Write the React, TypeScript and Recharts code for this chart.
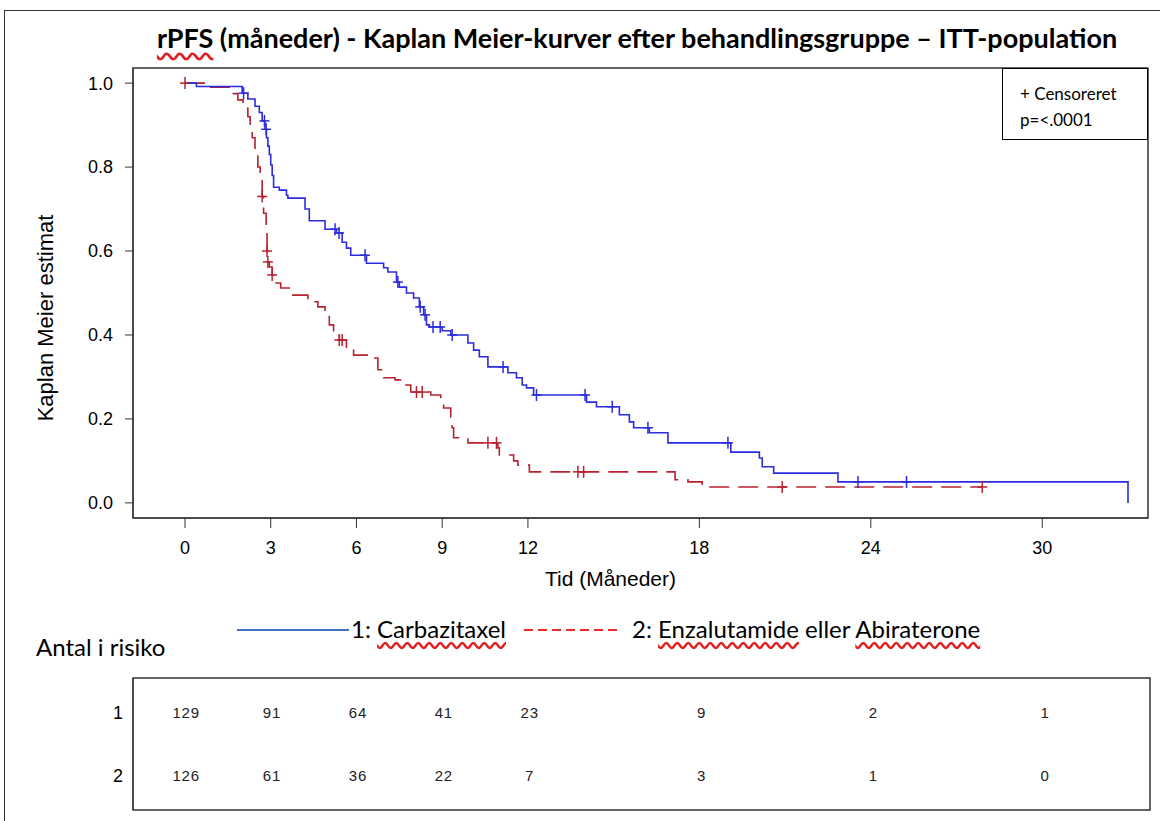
import { ComposedChart, Line, Scatter, XAxis, YAxis, ReferenceArea } from 'recharts'

// x-axis (months) and y-axis ticks
const monthTicks = [0, 3, 6, 9, 12, 18, 24, 30]
const survTicks = [0, 0.2, 0.4, 0.6, 0.8, 1.0]
const xDomain: [number, number] = [-1.82, 33.7]
const yDomain: [number, number] = [-0.036, 1.036]

// 1: Carbazitaxel - KM step points (time in months, survival estimate)
const carbaTime = [
  0, 0.4, 2.0, 2.2, 2.45, 2.6, 2.7, 2.8, 2.85, 2.9, 2.95, 3.0, 3.05, 3.1, 3.3, 3.55, 3.6,
  4.2, 4.35, 4.9, 5.3, 5.5, 5.65, 5.8, 6.35, 6.95, 7.1, 7.4, 7.5, 7.75, 8.0, 8.2, 8.35,
  8.45, 8.55, 9.0, 9.3, 9.9, 10.1, 10.3, 10.6, 11.3, 11.6, 11.8, 11.95, 12.2, 14.05, 14.4,
  15.2, 15.55, 15.7, 16.25, 16.9, 19.1, 20.1, 20.2, 20.6, 22.85, 33.0,
]
const carbaSurv = [
  1.0, 0.992, 0.976, 0.962, 0.945, 0.93, 0.91, 0.89, 0.87, 0.85, 0.83, 0.805, 0.78, 0.752,
  0.745, 0.733, 0.726, 0.7, 0.672, 0.652, 0.643, 0.621, 0.607, 0.59, 0.571, 0.56, 0.55,
  0.526, 0.514, 0.5, 0.488, 0.467, 0.448, 0.424, 0.419, 0.41, 0.4, 0.381, 0.364, 0.348,
  0.324, 0.31, 0.298, 0.281, 0.274, 0.257, 0.24, 0.229, 0.21, 0.193, 0.179, 0.167, 0.143,
  0.121, 0.107, 0.086, 0.071, 0.05, 0,
]
const carbaCensor = [
  2.05, 2.78, 2.84, 5.25, 5.39, 6.3, 7.45, 8.23, 8.4, 8.68, 8.93, 9.35, 11.13, 12.3, 14.0,
  14.95, 16.2, 19.0, 23.55, 25.25,
]

// 2: Enzalutamide eller Abiraterone
const enzaTime = [
  0, 0.8, 1.65, 1.85, 2.03, 2.2, 2.28, 2.35, 2.45, 2.55, 2.63, 2.7, 2.75, 2.84, 2.87, 2.9,
  2.95, 3.05, 3.15, 3.35, 3.7, 4.3, 4.65, 4.9, 5.05, 5.2, 5.4, 5.65, 5.9, 6.6, 6.75, 6.95,
  7.35, 7.6, 7.9, 8.6, 8.95, 9.05, 9.3, 9.35, 9.4, 9.9, 10.95, 11.0, 11.5, 11.65, 12.05,
  17.15, 17.6, 18.1, 27.9,
]
const enzaSurv = [
  1.0, 0.99, 0.975, 0.96, 0.94, 0.92, 0.895, 0.87, 0.84, 0.8, 0.77, 0.73, 0.69, 0.645, 0.6,
  0.574, 0.562, 0.543, 0.524, 0.512, 0.495, 0.479, 0.467, 0.452, 0.424, 0.405, 0.388,
  0.371, 0.352, 0.345, 0.317, 0.298, 0.293, 0.281, 0.264, 0.257, 0.245, 0.226, 0.205,
  0.179, 0.155, 0.143, 0.131, 0.114, 0.1, 0.09, 0.074, 0.055, 0.05, 0.038, 0.038,
]
const enzaCensor = [0, 2.7, 2.87, 2.9, 3.05, 5.4, 5.5, 8.1, 8.3, 10.6, 10.9, 13.75, 13.95, 20.9, 27.9]

// Antal i risiko
const atRiskCarba = [129, 91, 64, 41, 23, 9, 2, 1]
const atRiskEnza = [126, 61, 36, 22, 7, 3, 1, 0]

const BLUE = '#2b2bdf'
const RED = '#b8222f'

const survAt = (times: number[], surv: number[], t: number) => {
  let s = surv[0]
  times.forEach((tt, i) => {
    if (tt <= t) s = surv[i]
  })
  return s
}

const carbaData = carbaTime.map((t, i) => ({ t, s: carbaSurv[i] }))
const enzaData = enzaTime.map((t, i) => ({ t, s: enzaSurv[i] }))
const carbaMarks = carbaCensor.map((t) => ({ t, s: survAt(carbaTime, carbaSurv, t) }))
const enzaMarks = enzaCensor.map((t) => ({ t, s: survAt(enzaTime, enzaSurv, t) }))

const riskData = [
  ...monthTicks.map((t, i) => ({ t, row: 1, n: atRiskCarba[i] })),
  ...monthTicks.map((t, i) => ({ t, row: 2, n: atRiskEnza[i] })),
]

const axisFont = { fontFamily: '"Liberation Sans", Arial, sans-serif', fill: '#000' }
const wordFont = 'Lato, "Open Sans", sans-serif'
const squiggle = { textDecoration: 'underline wavy #e02020', textUnderlineOffset: 4 }

function censorMark(color: string) {
  return (props: any) => {
    const { cx, cy } = props
    return (
      <g stroke={color} strokeWidth={1.5}>
        <line x1={cx - 5} y1={cy} x2={cx + 5} y2={cy} />
        <line x1={cx} y1={cy - 6} x2={cx} y2={cy + 6} />
      </g>
    )
  }
}

function riskLabel(props: any) {
  const { cx, cy, payload } = props
  return (
    <text x={cx + 1} y={cy} textAnchor="middle" dominantBaseline="central" fontSize={15}
      letterSpacing={0.8} fontFamily='"Liberation Sans", Arial, sans-serif' fill="#222">
      {payload.n}
    </text>
  )
}

export default function App() {
  return (
    <div style={{ position: 'absolute', left: 0, top: 0, width: 1160, height: 821, background: '#fff', overflow: 'hidden' }}>
      <div style={{ position: 'absolute', left: 4, top: 10, width: 1170, height: 900, borderLeft: '1.5px solid #333', borderTop: '1.5px solid #333' }} />

      <div style={{ position: 'absolute', left: 0, top: 21, width: 1274, textAlign: 'center', fontFamily: wordFont, fontWeight: 700, fontSize: 27, color: '#000', whiteSpace: 'nowrap' }}>
        <span style={squiggle}>rPFS</span> (måneder) - Kaplan Meier-kurver efter behandlingsgruppe – ITT-population
      </div>

      <div style={{ position: 'absolute', left: 0, top: 0 }}>
        <ComposedChart width={1160} height={600} margin={{ top: 68, right: 12, bottom: 7, left: 33 }}>
          <XAxis
            type="number"
            dataKey="t"
            domain={xDomain}
            ticks={monthTicks}
            allowDataOverflow
            height={75}
            tickSize={10}
            tickMargin={13}
            tick={{ ...axisFont, fontSize: 18 }}
            stroke="#333"
            label={{ value: 'Tid (Måneder)', position: 'insideBottom', offset: 7, dx: -30, style: { ...axisFont, fontSize: 21 } }}
          />
          <YAxis
            type="number"
            dataKey="s"
            domain={yDomain}
            ticks={survTicks}
            allowDataOverflow
            width={100}
            tickSize={8}
            tickMargin={12}
            tickFormatter={(v: number) => v.toFixed(1)}
            tick={{ ...axisFont, fontSize: 18 }}
            stroke="#333"
            label={{ value: 'Kaplan Meier estimat', angle: -90, position: 'insideLeft', offset: 12, dy: 25, style: { ...axisFont, fontSize: 22, textAnchor: 'middle' } }}
          />
          <ReferenceArea x1={xDomain[0]} x2={xDomain[1]} y1={yDomain[0]} y2={yDomain[1]} fill="none" stroke="#333" strokeWidth={1.5} />
          <Line data={enzaData} dataKey="s" type="stepAfter" stroke={RED} strokeWidth={1.6} strokeDasharray="20 9" dot={false} isAnimationActive={false} />
          <Line data={carbaData} dataKey="s" type="stepAfter" stroke={BLUE} strokeWidth={1.6} dot={false} isAnimationActive={false} />
          <Scatter data={enzaMarks} dataKey="s" shape={censorMark(RED)} isAnimationActive={false} />
          <Scatter data={carbaMarks} dataKey="s" shape={censorMark(BLUE)} isAnimationActive={false} />
        </ComposedChart>
      </div>

      <div style={{ position: 'absolute', left: 1002, top: 68, width: 146, height: 72, boxSizing: 'border-box', border: '1.5px solid #000', background: '#fff', fontFamily: wordFont, fontSize: 17, color: '#000' }}>
        <div style={{ position: 'absolute', left: 17, top: 15, lineHeight: '20px', whiteSpace: 'nowrap' }}>+ Censoreret</div>
        <div style={{ position: 'absolute', left: 17, top: 41, lineHeight: '20px', whiteSpace: 'nowrap' }}>p=&lt;.0001</div>
      </div>

      <svg style={{ position: 'absolute', left: 237, top: 625 }} width={112} height={10}>
        <line x1={0} y1={5} x2={112} y2={5} stroke="#4472c4" strokeWidth={2} />
      </svg>
      <div style={{ position: 'absolute', left: 351, top: 614, fontFamily: wordFont, fontSize: 24, lineHeight: '30px', color: '#000', whiteSpace: 'nowrap' }}>
        1: <span style={squiggle}>Carbazitaxel</span>
      </div>
      <svg style={{ position: 'absolute', left: 524, top: 625 }} width={98} height={10}>
        <line x1={0} y1={5} x2={98} y2={5} stroke="#ee2b2b" strokeWidth={2} strokeDasharray="9 5" />
      </svg>
      <div style={{ position: 'absolute', left: 632, top: 614, fontFamily: wordFont, fontSize: 24, lineHeight: '30px', color: '#000', whiteSpace: 'nowrap' }}>
        2: <span style={squiggle}>Enzalutamide</span> eller <span style={squiggle}>Abiraterone</span>
      </div>

      <div style={{ position: 'absolute', left: 36, top: 632, fontFamily: wordFont, fontSize: 24, lineHeight: '30px', color: '#000' }}>Antal i risiko</div>

      <div style={{ position: 'absolute', left: 0, top: 660 }}>
        <ComposedChart width={1160} height={161} margin={{ top: 18, right: 10, bottom: 11, left: 33 }}>
          <XAxis type="number" dataKey="t" domain={xDomain} hide allowDataOverflow />
          <YAxis
            type="number"
            dataKey="row"
            domain={[0.46, 2.54]}
            reversed
            ticks={[1, 2]}
            width={100}
            tickSize={0}
            tickMargin={10}
            tick={{ ...axisFont, fontSize: 18 }}
            stroke="#333"
          />
          <ReferenceArea x1={xDomain[0]} x2={xDomain[1]} y1={0.46} y2={2.54} fill="none" stroke="#333" strokeWidth={1.5} />
          <Scatter data={riskData} dataKey="row" shape={riskLabel} isAnimationActive={false} />
        </ComposedChart>
      </div>
    </div>
  )
}
